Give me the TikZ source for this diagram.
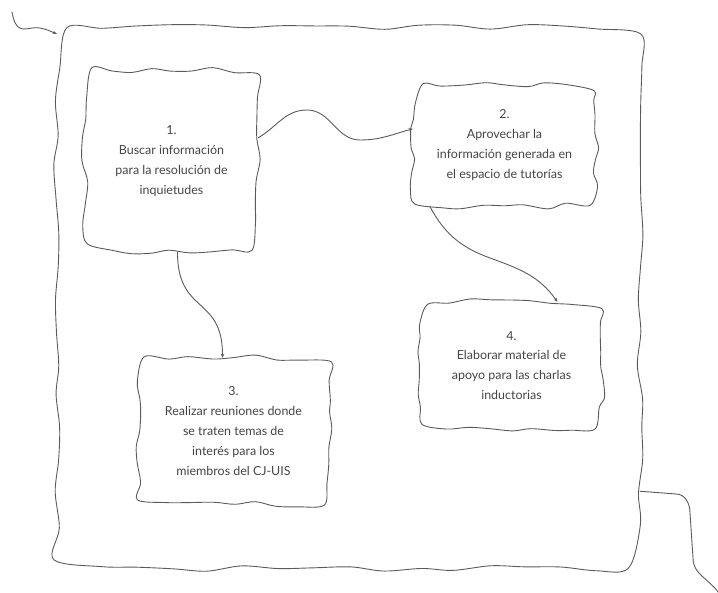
\documentclass[tikz,border=0pt]{standalone}
\usepackage{fontspec}
\setmainfont{Lato}
\usetikzlibrary{arrows.meta}
\usetikzlibrary{calc}
\definecolor{trazo}{HTML}{5A5A5A}
\definecolor{letra}{HTML}{454545}
\tikzset{
  caja/.style={align=center,text=letra,font=\fontsize{12.5}{20}\selectfont},
  flecha/.style={draw=trazo,line width=0.9pt,->}
}
\newcommand\bordemano[4]{%
  \gdef\puntos{}%
  \foreach \a/\b in {north west/north east,north east/south east,south east/south west,south west/north west}{%
    \foreach \t in {0,#2,...,0.99}{%
      \pgfmathsetmacro\s{#4+(1-2*#4)*\t}%
      \xdef\puntos{\puntos ($(#1.\a)!\s!(#1.\b)+(rand*#3,rand*#3)$)}}}%
  \draw[trazo,line width=0.9pt] plot[smooth cycle,tension=0.55] coordinates {\puntos};}
\begin{document}
\pgfmathsetseed{11}
\begin{tikzpicture}[line cap=round,line join=round,>={Stealth[length=4pt,width=3.5pt]},x=1bp,y=1bp]
\useasboundingbox (0,0) rectangle (718,593);
\node[minimum width=583bp,minimum height=541bp] (marco) at (348.5,295.5) {};
\node[caja,minimum width=173bp,minimum height=182bp] (b1) at (171.5,432) {1.\\Buscar información\\para la resolución de\\inquietudes};
\node[caja,minimum width=183bp,minimum height=122bp] (b2) at (504.5,448) {2.\\Aprovechar la\\información generada en\\el espacio de tutorías};
\node[caja,minimum width=191bp,minimum height=146bp] (b3) at (233.5,162) {3.\\Realizar reuniones donde\\se traten temas de\\interés para los\\miembros del CJ-UIS};
\node[caja,minimum width=181bp,minimum height=127bp] (b4) at (511.5,227.5) {4.\\Elaborar material de\\apoyo para las charlas\\inductorias};
\bordemano{marco}{0.0625}{3}{0.015}
\bordemano{b1}{0.125}{3}{0.04}
\bordemano{b2}{0.125}{3}{0.04}
\bordemano{b3}{0.125}{3}{0.04}
\bordemano{b4}{0.125}{3}{0.04}
\coordinate (entrada) at (12,581);
\coordinate (salida) at (718,1);
\draw[flecha] (entrada) to[out=-80,in=180] (24,564) to[out=0,in=170] (40,565) to[out=-10,in=160] ([yshift=-7]marco.north west);
\draw[flecha] (b1.15) to[out=30,in=180] (307,483) to[out=0,in=180] (360,453) to[out=0,in=195] (b2.170);
\draw[flecha] ([xshift=6]b1.south) to[out=-90,in=90,looseness=1.4] ([xshift=-11]b3.north);
\draw[flecha] ([xshift=17]b2.south west) to[out=-62,in=160] (490,335) to[out=-20,in=125] ([xshift=46]b4.north);
\draw[draw=trazo,line width=0.9pt] ([yshift=-194.5]marco.east) -- (676,99) to[out=0,in=90] (690,80) -- (693,35) to[out=-90,in=125] (salida);
\end{tikzpicture}
\end{document}
